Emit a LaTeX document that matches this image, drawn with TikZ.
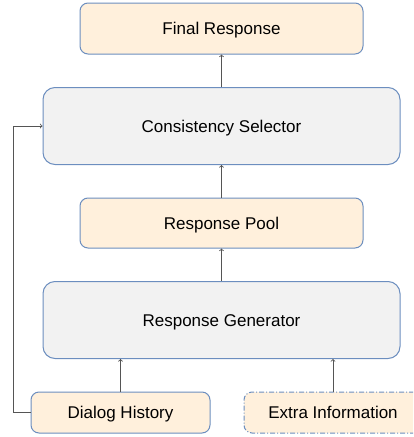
\documentclass[tikz,border=0pt]{standalone}
\usepackage{fontspec}
\setmainfont{Liberation Sans}
\usepackage{xcolor}
\usetikzlibrary{arrows}
\definecolor{linecolor}{HTML}{6C8EBF}
\definecolor{arrowcolor}{HTML}{555555}
\definecolor{poolfill}{HTML}{FFF0DC}
\definecolor{stagefill}{HTML}{F2F2F2}

\begin{document}
\begin{tikzpicture}[x=1pt,y=-1pt,
   box/.style={draw=linecolor, line width=1pt, inner sep=0pt, text height=12pt, text depth=0pt, font=\fontsize{17}{20}\selectfont},
   datanode/.style={box, fill=poolfill, rounded corners=8pt},
   stagenode/.style={box, fill=stagefill, rounded corners=12pt, minimum width=357pt, minimum height=77pt},
   conn/.style={->, >=to, arrowcolor, line width=0.8pt}]
   \clip (0,0) rectangle (413,437);
   \node [datanode, minimum width=283pt, minimum height=51pt] (final) at (221.5,28.5) {Final Response};
   \node [stagenode] (selector) at (221.5,126) {Consistency Selector};
   \node [datanode, minimum width=283pt, minimum height=50pt] (pool) at (221.5,223) {Response Pool};
   \node [stagenode] (generator) at (221.5,320) {Response Generator};
   \node [datanode, minimum width=179pt, minimum height=41pt] (history) at (120.5,412.5) {Dialog History};
   \node [datanode, minimum width=178pt, minimum height=41pt, dash pattern=on 5pt off 2pt on 1pt off 2pt] (extra) at (333,412.5) {Extra Information};
   \coordinate (loop) at (13,126);
%% arrows
   \draw [conn] (selector) -- (final);
   \draw [conn] (pool) -- (selector);
   \draw [conn] (generator) -- (pool);
   \draw [conn] (history.north) -- (history.north |- generator.south);
   \draw [conn] (extra.north) -- (extra.north |- generator.south);
   \draw [conn] (history.west) -| (loop) -- (selector.west);
\end{tikzpicture}
\end{document}
